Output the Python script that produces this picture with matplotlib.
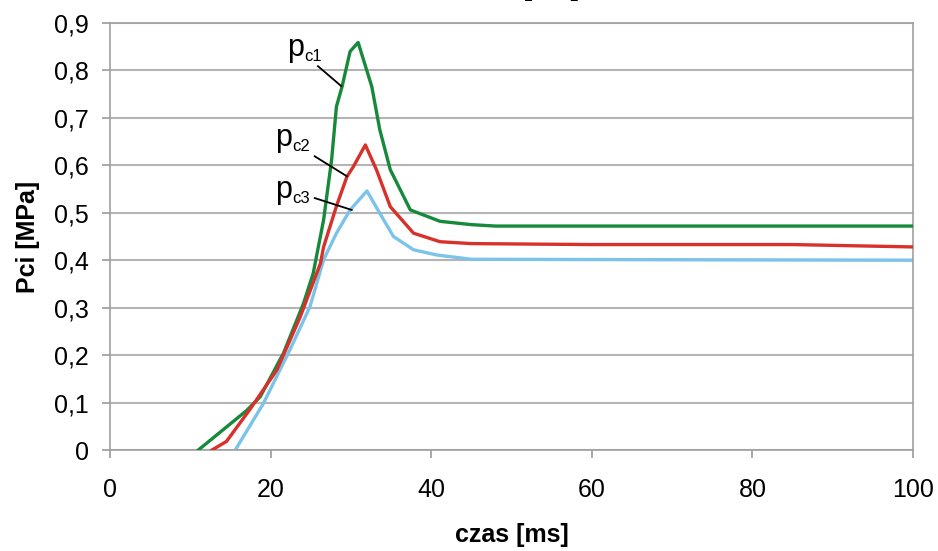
import numpy as np
import matplotlib.pyplot as plt

plt.rcParams['font.family'] = ['Liberation Sans', 'DejaVu Sans']

# data
t_pc1 = [11.0, 17.0, 18.7, 21.6, 24.1, 25.3, 26.6, 27.6, 28.2, 28.9, 29.9, 30.9,
         32.6, 33.6, 34.9, 37.4, 41.1, 45.0, 48.0, 100.0]
pc1 = [0.0, 0.083, 0.112, 0.204, 0.309, 0.372, 0.485, 0.612, 0.724, 0.766, 0.840, 0.859,
       0.766, 0.675, 0.591, 0.506, 0.482, 0.475, 0.472, 0.472]

t_pc2 = [12.7, 14.5, 17.4, 20.8, 23.7, 26.2, 26.6, 28.2, 29.5, 30.3, 31.8,
         33.2, 34.9, 37.8, 41.1, 45.0, 60.0, 85.0, 100.0]
pc2 = [0.0, 0.018, 0.085, 0.169, 0.281, 0.393, 0.428, 0.514, 0.576, 0.597, 0.643,
       0.590, 0.513, 0.457, 0.439, 0.435, 0.433, 0.433, 0.428]

t_pc3 = [15.6, 19.1, 22.4, 24.9, 26.6, 28.2, 29.9, 32.0, 33.6, 35.3, 37.8, 40.7, 45.0, 100.0]
pc3 = [0.0, 0.098, 0.211, 0.302, 0.401, 0.457, 0.506, 0.546, 0.499, 0.450, 0.422, 0.411,
       0.402, 0.400]

xticks = [0, 20, 40, 60, 80, 100]
yticks = [0.0, 0.1, 0.2, 0.3, 0.4, 0.5, 0.6, 0.7, 0.8, 0.9]
ytick_labels = ['0', '0,1', '0,2', '0,3', '0,4', '0,5', '0,6', '0,7', '0,8', '0,9']

fig = plt.figure(figsize=(9.38, 5.51), dpi=100)
ax = fig.add_axes([110 / 938, 1 - 450 / 551, (913 - 110) / 938, (450 - 23) / 551])

grid_col = '#b4b4b4'
for y in yticks:
    ax.axhline(y, color=grid_col, lw=1.5, zorder=1)

ax.plot(t_pc1, pc1, color='#17893a', lw=2.4, zorder=3)
ax.plot(t_pc2, pc2, color='#d8302a', lw=2.4, zorder=3)
ax.plot(t_pc3, pc3, color='#7cc3ea', lw=2.4, zorder=2)


def curve_label(x, y, sub):
    ax.text(x, y, 'p', fontsize=22, va='baseline', ha='left')
    ax.annotate(sub, xy=(x, y), xytext=(13, -4), textcoords='offset points',
                fontsize=12, va='baseline', ha='left')


# labels with leader lines
curve_label(22.0, 0.831, 'c1')
ax.plot([25.9, 28.8], [0.809, 0.767], color='black', lw=1.3, zorder=4)
curve_label(20.5, 0.641, 'c2')
ax.plot([25.5, 29.5], [0.619, 0.577], color='black', lw=1.3, zorder=4)
curve_label(20.5, 0.532, 'c3')
ax.plot([25.5, 30.1], [0.531, 0.506], color='black', lw=1.3, zorder=4)

ax.set_xlim(0, 100)
ax.set_ylim(0, 0.9)
ax.set_xticks(xticks)
ax.set_yticks(yticks)
ax.set_yticklabels(ytick_labels)
ax.tick_params(axis='both', labelsize=18, color='#999999', width=1.2)
ax.tick_params(axis='x', length=6, pad=14)
ax.tick_params(axis='y', length=6, pad=9)

for side in ['left', 'right', 'bottom', 'top']:
    ax.spines[side].set_color('#a0a0a0')
    ax.spines[side].set_linewidth(1.2)

ax.set_xlabel('czas [ms]', fontsize=18, fontweight='bold', labelpad=15)
ax.set_ylabel('Pci [MPa]', fontsize=18, fontweight='bold', labelpad=10)

# title cut off at the top edge of the original
fig.text(459 / 938, 1 + 4 / 551, 'czas [ms]', fontsize=19, fontweight='bold',
         ha='left', va='baseline')

fig.savefig('out.png', dpi=100)
